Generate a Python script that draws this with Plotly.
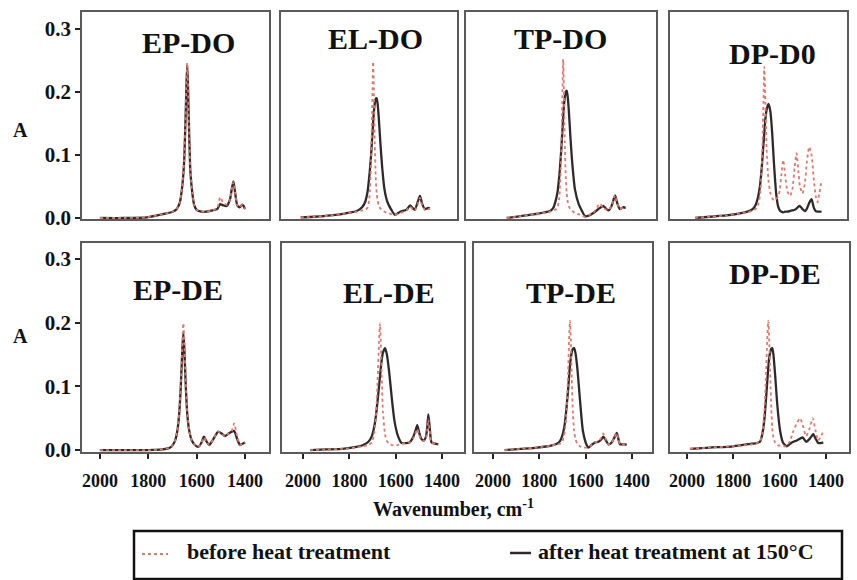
import plotly.graph_objects as go

# ---------------- data (wavenumber cm-1, absorbance A) ----------------
TITLES = ["EP-DO", "EL-DO", "TP-DO", "DP-D0", "EP-DE", "EL-DE", "TP-DE", "DP-DE"]
X_TICKS = [2000, 1800, 1600, 1400]
Y_TICKS = [0.0, 0.1, 0.2, 0.3]
Y_TICK_TEXT = ["0.0", "0.1", "0.2", "0.3"]

EP_DO_W = [2000, 1900, 1806, 1740, 1700, 1683, 1670, 1660, 1652, 1646, 1642, 1639, 1636, 1632, 1626, 1618, 1610,
           1600, 1580, 1560, 1535, 1515, 1503, 1490, 1476, 1462, 1455, 1448, 1441, 1432, 1422, 1412, 1406, 1400]
EP_DO_BEFORE = [0, 0, 0.001, 0.006, 0.010, 0.014, 0.024, 0.050, 0.090, 0.160, 0.218, 0.246, 0.215, 0.150, 0.075,
                0.040, 0.020, 0.013, 0.010, 0.010, 0.012, 0.016, 0.033, 0.024, 0.021, 0.030, 0.045, 0.057, 0.040,
                0.020, 0.017, 0.021, 0.019, 0.014]
EP_DO_AFTER = [0, 0, 0.001, 0.006, 0.010, 0.014, 0.024, 0.049, 0.088, 0.158, 0.215, 0.243, 0.212, 0.148, 0.074,
               0.040, 0.020, 0.013, 0.010, 0.010, 0.012, 0.014, 0.022, 0.020, 0.019, 0.030, 0.046, 0.058, 0.040,
               0.020, 0.017, 0.021, 0.019, 0.014]

EL_DO_W = [2010, 1950, 1880, 1820, 1768, 1745, 1732, 1722, 1714, 1706, 1700, 1697, 1694, 1690, 1686, 1682, 1678,
           1673, 1666, 1658, 1648, 1635, 1617, 1603, 1580, 1553, 1538, 1527, 1517, 1505, 1495, 1485, 1473, 1460, 1452]
EL_DO_BEFORE = [0.001, 0.002, 0.004, 0.007, 0.010, 0.012, 0.013, 0.016, 0.030, 0.090, 0.200, 0.248, 0.205, 0.120,
                0.065, 0.040, 0.028, 0.020, 0.015, 0.012, 0.010, 0.008, 0.006, 0.005, 0.008, 0.012, 0.018, 0.014,
                0.012, 0.022, 0.032, 0.020, 0.013, 0.015, 0.014]
EL_DO_AFTER = [0.001, 0.002, 0.004, 0.007, 0.011, 0.017, 0.025, 0.040, 0.065, 0.100, 0.135, 0.152, 0.168, 0.182,
               0.189, 0.190, 0.182, 0.160, 0.120, 0.080, 0.045, 0.025, 0.012, 0.005, 0.010, 0.013, 0.020, 0.016,
               0.013, 0.025, 0.035, 0.022, 0.014, 0.016, 0.015]

TP_DO_W = [1941, 1880, 1820, 1754, 1740, 1732, 1722, 1714, 1706, 1700, 1697, 1694, 1690, 1686, 1682, 1678, 1673,
           1666, 1658, 1646, 1630, 1617, 1603, 1585, 1567, 1538, 1524, 1502, 1487, 1473, 1462, 1452, 1438, 1426]
TP_DO_BEFORE = [0, 0.003, 0.006, 0.010, 0.012, 0.013, 0.016, 0.032, 0.095, 0.205, 0.252, 0.205, 0.120, 0.065,
                0.040, 0.027, 0.019, 0.014, 0.011, 0.008, 0.006, 0.004, 0.002, 0.005, 0.008, 0.023, 0.016, 0.012,
                0.020, 0.036, 0.022, 0.014, 0.017, 0.016]
TP_DO_AFTER = [0, 0.003, 0.006, 0.011, 0.016, 0.024, 0.040, 0.066, 0.105, 0.142, 0.160, 0.177, 0.192, 0.200,
               0.202, 0.194, 0.172, 0.130, 0.088, 0.045, 0.022, 0.012, 0.003, 0.004, 0.008, 0.016, 0.019, 0.012,
               0.020, 0.036, 0.022, 0.014, 0.017, 0.016]

DP_D0_W = [1965, 1900, 1830, 1760, 1720, 1707, 1695, 1685, 1677, 1671, 1666, 1661, 1656, 1648, 1640, 1632, 1624,
           1615, 1606, 1599, 1592, 1584, 1576, 1566, 1555, 1545, 1535, 1527, 1519, 1512, 1501, 1491, 1482, 1472,
           1462, 1452, 1444, 1436, 1428, 1419]
DP_D0_BEFORE = [0, 0.002, 0.004, 0.008, 0.011, 0.013, 0.018, 0.035, 0.080, 0.160, 0.240, 0.180, 0.110, 0.060,
                0.040, 0.032, 0.028, 0.030, 0.034, 0.045, 0.070, 0.092, 0.068, 0.042, 0.035, 0.045, 0.080, 0.103,
                0.075, 0.050, 0.039, 0.055, 0.090, 0.113, 0.100, 0.060, 0.035, 0.025, 0.040, 0.060]
DP_D0_AFTER = [0, 0.002, 0.004, 0.008, 0.013, 0.018, 0.030, 0.050, 0.080, 0.110, 0.135, 0.158, 0.172, 0.181,
               0.170, 0.135, 0.085, 0.040, 0.018, 0.012, 0.010, 0.009, 0.010, 0.010, 0.011, 0.012, 0.013, 0.015,
               0.018, 0.019, 0.014, 0.011, 0.015, 0.024, 0.030, 0.016, 0.011, 0.010, 0.010, 0.010]

EP_DE_W = [2000, 1900, 1800, 1740, 1715, 1703, 1690, 1680, 1672, 1665, 1659, 1655, 1651, 1645, 1638, 1630, 1620,
           1607, 1593, 1580, 1570, 1560, 1548, 1530, 1511, 1497, 1483, 1468, 1455, 1445, 1433, 1421, 1410, 1400]
EP_DE_BEFORE = [0, 0, 0, 0.001, 0.003, 0.006, 0.014, 0.030, 0.060, 0.110, 0.170, 0.199, 0.170, 0.105, 0.055,
                0.030, 0.015, 0.008, 0.005, 0.012, 0.020, 0.014, 0.008, 0.018, 0.029, 0.026, 0.021, 0.026, 0.030,
                0.042, 0.022, 0.008, 0.010, 0.012]
EP_DE_AFTER = [0, 0, 0, 0.001, 0.003, 0.006, 0.014, 0.030, 0.058, 0.105, 0.160, 0.184, 0.160, 0.100, 0.053,
               0.029, 0.015, 0.008, 0.005, 0.012, 0.021, 0.014, 0.008, 0.018, 0.029, 0.026, 0.022, 0.026, 0.029,
               0.030, 0.018, 0.008, 0.010, 0.012]

EL_DE_W = [1970, 1900, 1830, 1770, 1740, 1718, 1703, 1692, 1684, 1678, 1672, 1668, 1664, 1660, 1655, 1646, 1638,
           1628, 1617, 1605, 1590, 1574, 1560, 1540, 1525, 1515, 1507, 1499, 1490, 1480, 1470, 1464, 1459, 1453,
           1445, 1430, 1416]
EL_DE_BEFORE = [0, 0.001, 0.002, 0.004, 0.006, 0.008, 0.012, 0.028, 0.060, 0.110, 0.170, 0.199, 0.165, 0.110,
                0.060, 0.025, 0.014, 0.010, 0.008, 0.007, 0.008, 0.010, 0.011, 0.012, 0.018, 0.026, 0.033, 0.024,
                0.016, 0.014, 0.018, 0.030, 0.048, 0.030, 0.012, 0.010, 0.009]
EL_DE_AFTER = [0, 0.001, 0.002, 0.005, 0.008, 0.013, 0.022, 0.038, 0.058, 0.078, 0.100, 0.115, 0.130, 0.143,
               0.153, 0.160, 0.150, 0.122, 0.082, 0.045, 0.022, 0.011, 0.011, 0.012, 0.020, 0.030, 0.039, 0.028,
               0.018, 0.015, 0.020, 0.035, 0.056, 0.035, 0.012, 0.010, 0.009]

TP_DE_W = [1950, 1880, 1810, 1750, 1725, 1711, 1700, 1690, 1682, 1676, 1672, 1668, 1664, 1660, 1655, 1650, 1644,
           1636, 1625, 1612, 1596, 1589, 1575, 1560, 1545, 1532, 1524, 1514, 1502, 1488, 1476, 1466, 1458, 1452,
           1438, 1423]
TP_DE_BEFORE = [0, 0.002, 0.004, 0.007, 0.009, 0.010, 0.014, 0.030, 0.065, 0.120, 0.170, 0.203, 0.170, 0.110,
                0.055, 0.030, 0.017, 0.010, 0.006, 0.004, 0.004, 0.004, 0.008, 0.012, 0.014, 0.020, 0.026, 0.018,
                0.009, 0.012, 0.020, 0.027, 0.016, 0.009, 0.009, 0.0085]
TP_DE_AFTER = [0, 0.002, 0.004, 0.007, 0.010, 0.014, 0.024, 0.042, 0.070, 0.095, 0.115, 0.132, 0.145, 0.154,
               0.159, 0.160, 0.152, 0.128, 0.080, 0.030, 0.008, 0.004, 0.008, 0.012, 0.013, 0.017, 0.021, 0.016,
               0.009, 0.012, 0.020, 0.027, 0.016, 0.009, 0.009, 0.0085]

DP_DE_W = [1987, 1900, 1800, 1720, 1700, 1685, 1675, 1666, 1659, 1654, 1649, 1645, 1640, 1636, 1632, 1627, 1620,
           1610, 1598, 1586, 1577, 1570, 1555, 1541, 1526, 1512, 1501, 1486, 1470, 1458, 1455, 1445, 1434, 1422, 1412]
DP_DE_BEFORE = [0.002, 0.004, 0.006, 0.009, 0.011, 0.013, 0.025, 0.060, 0.120, 0.170, 0.203, 0.170, 0.110, 0.065,
                0.035, 0.020, 0.012, 0.008, 0.007, 0.006, 0.006, 0.006, 0.015, 0.030, 0.042, 0.050, 0.040, 0.022,
                0.035, 0.050, 0.048, 0.030, 0.015, 0.022, 0.029]
DP_DE_AFTER = [0.002, 0.004, 0.006, 0.010, 0.011, 0.013, 0.025, 0.048, 0.080, 0.105, 0.130, 0.145, 0.155, 0.159,
               0.160, 0.150, 0.120, 0.070, 0.030, 0.012, 0.008, 0.006, 0.010, 0.013, 0.015, 0.018, 0.020, 0.013,
               0.018, 0.024, 0.025, 0.018, 0.011, 0.011, 0.012]

SERIES_NAMES = ["before heat treatment", "after heat treatment at 150°C"]

PANELS = [
    (EP_DO_W, EP_DO_BEFORE, EP_DO_AFTER),
    (EL_DO_W, EL_DO_BEFORE, EL_DO_AFTER),
    (TP_DO_W, TP_DO_BEFORE, TP_DO_AFTER),
    (DP_D0_W, DP_D0_BEFORE, DP_D0_AFTER),
    (EP_DE_W, EP_DE_BEFORE, EP_DE_AFTER),
    (EL_DE_W, EL_DE_BEFORE, EL_DE_AFTER),
    (TP_DE_W, TP_DE_BEFORE, TP_DE_AFTER),
    (DP_DE_W, DP_DE_BEFORE, DP_DE_AFTER),
]

# ---------------- layout geometry (pixels) ----------------
FIG_W, FIG_H = 857, 580
BOXES = [
    (82, 269, 12, 219), (281, 457, 12, 219), (466, 656, 12, 219), (670, 847, 12, 219),
    (82, 269, 243, 452), (282, 464, 243, 452), (474, 652, 243, 452), (670, 849, 243, 452),
]
XRANGES = [
    (2074, 1301), (2095, 1335), (2117, 1296), (2073, 1309),
    (2074, 1301), (2091, 1305), (2082, 1314), (2073, 1301),
]
YRANGES = [(-0.0016, 0.327)] * 4 + [(-0.003, 0.325)] * 4
TITLE_POS = [(188, 43), (375, 38), (560, 38), (772, 53), (178, 289), (389, 292), (571, 292), (775, 273)]

FONT = "Liberation Serif"
BEFORE_COLOR = "#e0786c"
AFTER_COLOR = "#2e2a2a"


def px_x(v):
    return v / FIG_W


def px_y(v):
    return 1 - v / FIG_H


fig = go.Figure()
layout_axes = {}
for i, (w, before, after) in enumerate(PANELS):
    n = i + 1
    xa = "x" if n == 1 else f"x{n}"
    ya = "y" if n == 1 else f"y{n}"
    fig.add_trace(go.Scatter(
        x=w, y=after, xaxis=xa, yaxis=ya, mode="lines",
        line=dict(color=AFTER_COLOR, width=2.3, shape="spline", smoothing=0.6),
        name=SERIES_NAMES[1], showlegend=False, hoverinfo="skip"))
    fig.add_trace(go.Scatter(
        x=w, y=before, xaxis=xa, yaxis=ya, mode="lines",
        line=dict(color=BEFORE_COLOR, width=1.8, dash="dot", shape="spline", smoothing=0.6),
        name=SERIES_NAMES[0], showlegend=False, hoverinfo="skip"))

    l, r, t, b = BOXES[i]
    bottom_row = i >= 4
    left_col = i % 4 == 0
    xaxis = dict(
        domain=[px_x(l), px_x(r)], range=list(XRANGES[i]), anchor=ya, automargin=False,
        showline=True, mirror=True, linecolor="#5a5a5a", linewidth=1.6,
        showgrid=False, zeroline=False, showticklabels=bottom_row,
    )
    if bottom_row:
        xaxis.update(tickvals=X_TICKS, ticktext=[f"<b>{v}</b>" for v in X_TICKS],
                     ticks="outside", ticklen=5, tickwidth=2, tickcolor="#222", ticklabelstandoff=7,
                     tickfont=dict(family=FONT, size=18, color="#111"))
    else:
        xaxis.update(ticks="", tickvals=[])
    yaxis = dict(
        domain=[px_y(b), px_y(t)], range=list(YRANGES[i]), anchor=xa, automargin=False,
        showline=True, mirror=True, linecolor="#5a5a5a", linewidth=1.6,
        showgrid=False, zeroline=False, showticklabels=left_col,
    )
    if left_col:
        yaxis.update(tickvals=Y_TICKS, ticktext=[f"<b>{s}</b>" for s in Y_TICK_TEXT],
                     ticks="outside", ticklen=5, tickwidth=2, tickcolor="#222",
                     tickfont=dict(family=FONT, size=21, color="#111"))
    else:
        yaxis.update(ticks="", tickvals=[])
    layout_axes["xaxis" if n == 1 else f"xaxis{n}"] = xaxis
    layout_axes["yaxis" if n == 1 else f"yaxis{n}"] = yaxis

annotations = []
for title, (cx, cy) in zip(TITLES, TITLE_POS):
    annotations.append(dict(text=f"<b>{title}</b>", x=px_x(cx), y=px_y(cy), xref="paper", yref="paper",
                            showarrow=False, xanchor="center", yanchor="middle",
                            font=dict(family=FONT, size=30, color="#111")))
for ay in (130, 336):
    annotations.append(dict(text="<b>A</b>", x=px_x(20), y=px_y(ay), xref="paper", yref="paper",
                            showarrow=False, xanchor="center", yanchor="middle",
                            font=dict(family=FONT, size=20, color="#111")))
annotations.append(dict(text="<b>Wavenumber, cm<sup>-1</sup></b>", x=px_x(454), y=px_y(494),
                        xref="paper", yref="paper", showarrow=False, xanchor="center", yanchor="top",
                        font=dict(family=FONT, size=20, color="#111")))
# legend texts
annotations.append(dict(text=f"<b>{SERIES_NAMES[0]}</b>", x=px_x(185), y=px_y(551), xref="paper", yref="paper",
                        showarrow=False, xanchor="left", yanchor="middle",
                        font=dict(family=FONT, size=22, color="#111")))
annotations.append(dict(text=f"<b>{SERIES_NAMES[1]}</b>", x=px_x(536), y=px_y(551), xref="paper", yref="paper",
                        showarrow=False, xanchor="left", yanchor="middle",
                        font=dict(family=FONT, size=22, color="#111")))

shapes = [
    dict(type="rect", xref="paper", yref="paper", x0=px_x(134), x1=px_x(842), y0=px_y(579), y1=px_y(531),
         line=dict(color="#111", width=2.5), fillcolor="rgba(0,0,0,0)"),
    dict(type="line", xref="paper", yref="paper", x0=px_x(142), x1=px_x(168), y0=px_y(554), y1=px_y(554),
         line=dict(color=BEFORE_COLOR, width=2, dash="dot")),
    dict(type="line", xref="paper", yref="paper", x0=px_x(510), x1=px_x(531), y0=px_y(553), y1=px_y(553),
         line=dict(color=AFTER_COLOR, width=2.5)),
]

fig.update_layout(
    width=FIG_W, height=FIG_H, autosize=False,
    margin=dict(l=0, r=0, t=0, b=0, pad=0),
    paper_bgcolor="white", plot_bgcolor="white",
    annotations=annotations,
    shapes=shapes,
    showlegend=False,
    **layout_axes,
)

fig.write_html("out.html")
